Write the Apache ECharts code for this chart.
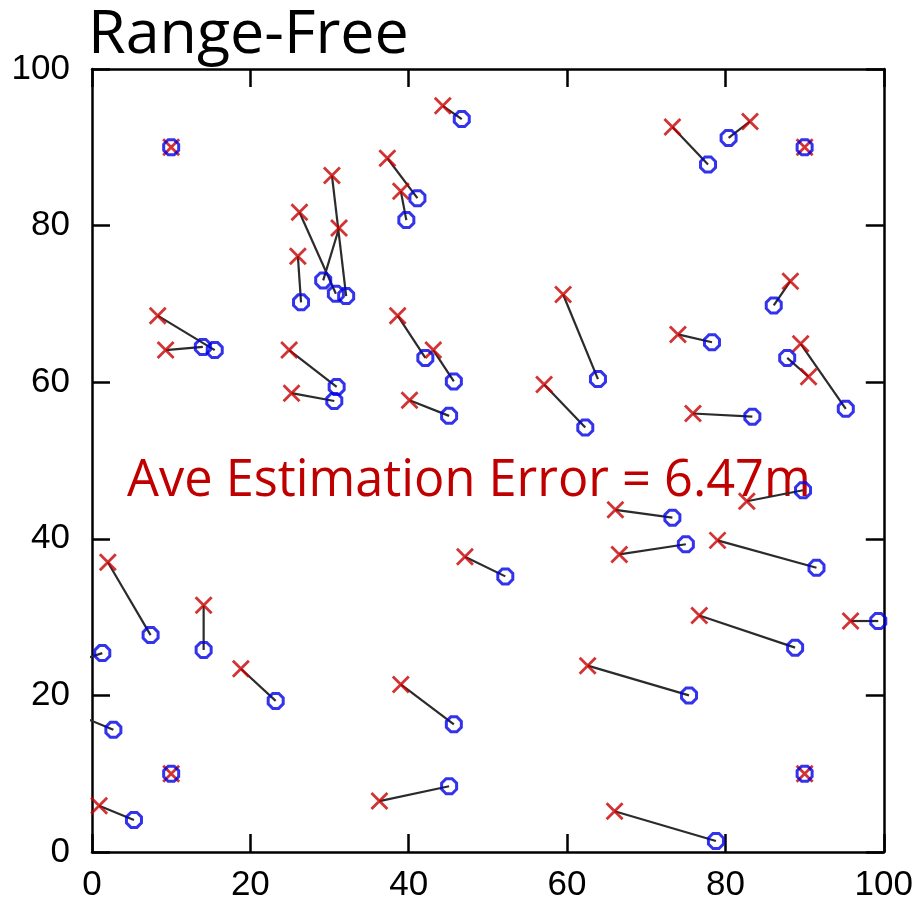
<!DOCTYPE html>
<html>
<head>
<meta charset="utf-8">
<script src="https://cdn.jsdelivr.net/npm/echarts@6/dist/echarts.min.js"></script>
<style>
  html, body { margin: 0; padding: 0; background: #fff; }
  #main { width: 916px; height: 903px; }
</style>
</head>
<body>
<div id="main"></div>
<script>
// estimated positions (red x) and true positions (blue o), same order
var estX  = [44.3, 10, 90, 10, 90, 30.3, 26.2, 31.2, 26.0, 37.3, 39.0, 73.3, 83.1, 88.2, 89.5, 90.5,
             8.3, 9.3, 24.9, 25.2, 38.6, 43.1, 40.1, 59.5, 57.1, 74.0, 75.9, 2.0, -2.0, -3.0,
             14.1, 18.8, 0.9, 39.0, 36.3, 47.1, 66.1, 66.6, 82.7, 79.0, 76.7, 95.8, 62.6, 66.0];
var estY  = [95.3, 90, 90, 10, 10, 86.4, 81.7, 79.7, 76.1, 88.6, 84.4, 92.6, 93.3, 72.9, 64.9, 60.7,
             68.5, 64.1, 64.1, 58.6, 68.5, 64.1, 57.7, 71.2, 59.7, 66.1, 56.0, 37.0, 24.3, 18.0,
             31.5, 23.4, 5.9, 21.4, 6.5, 37.7, 43.7, 38.0, 44.8, 39.8, 30.2, 29.5, 23.8, 5.2];
var trueX = [46.7, 10, 90, 10, 90, 32.1, 30.8, 29.2, 26.4, 41.1, 39.7, 77.8, 80.4, 86.1, 95.2, 87.8,
             15.5, 14.0, 30.9, 30.6, 42.1, 45.7, 45.1, 63.9, 62.3, 78.3, 83.4, 7.4, 1.3, 2.7,
             14.1, 23.2, 5.3, 45.7, 45.1, 52.2, 73.3, 75.0, 89.8, 91.5, 88.8, 99.3, 75.4, 78.8];
var trueY = [93.6, 90, 90, 10, 10, 71.0, 71.3, 73.0, 70.2, 83.5, 80.7, 87.8, 91.2, 69.8, 56.6, 63.1,
             64.1, 64.5, 59.4, 57.6, 63.1, 60.1, 55.7, 60.4, 54.2, 65.1, 55.6, 27.7, 25.4, 15.6,
             25.8, 19.3, 4.1, 16.3, 8.4, 35.2, 42.7, 39.3, 46.2, 36.3, 26.1, 29.5, 20.0, 1.4];
var axisTicks = [0, 20, 40, 60, 80, 100];
var titleText = 'Range-Free';
var noteText = 'Ave Estimation Error = 6.47m';

var myChart = echarts.init(document.getElementById('main'));

var estData = estX.map(function (x, i) { return [x, estY[i]]; });
var trueData = trueX.map(function (x, i) { return [x, trueY[i]]; });

// one short segment per node, estimate -> true position
var series = [];
for (var i = 0; i < estX.length; i++) {
    series.push({
        type: 'line',
        data: [[estX[i], estY[i]], [trueX[i], trueY[i]]],
        symbol: 'none',
        clip: true,
        silent: true,
        lineStyle: { color: '#2b2b2b', width: 2.2 },
        z: 1
    });
}
series.push({
    type: 'scatter',
    data: estData,
    symbol: 'path://M0,0L10,10M10,0L0,10',
    symbolSize: 16,
    clip: true,
    itemStyle: { color: 'none', borderColor: '#c80000', borderWidth: 2.8 },
    z: 3
});
series.push({
    type: 'scatter',
    data: trueData,
    symbol: 'path://M3,0L7,0L10,3L10,7L7,10L3,10L0,7L0,3Z',
    symbolSize: 15,
    clip: true,
    itemStyle: { color: 'rgba(0,0,0,0)', borderColor: '#0000e6', borderWidth: 3 },
    z: 4
});

function axis(pos, showLabel) {
    return {
        type: 'value',
        position: pos,
        min: axisTicks[0],
        max: axisTicks[axisTicks.length - 1],
        interval: axisTicks[1] - axisTicks[0],
        axisLine: { show: true, onZero: false, lineStyle: { color: '#000', width: 2.5 } },
        axisTick: { show: true, inside: true, length: 18, lineStyle: { color: '#000', width: 2.5 } },
        axisLabel: {
            show: showLabel,
            color: '#000',
            fontSize: 35,
            fontFamily: 'Liberation Sans',
            margin: (pos === 'left') ? 22 : 16
        },
        splitLine: { show: false }
    };
}

var option = {
    animation: false,
    grid: { left: 92, right: 32, top: 69, bottom: 48 },
    xAxis: [axis('bottom', true), axis('top', false)],
    yAxis: [axis('left', true), axis('right', false)],
    graphic: [
        {
            type: 'text', left: 88, top: 5,
            style: { text: titleText, font: '61px "Open Sans"', fill: '#000' }
        },
        {
            type: 'text', left: 127, top: 456,
            style: { text: noteText, font: '50.5px "Open Sans"', fill: '#c00000' }
        }
    ],
    series: series
};

myChart.setOption(option);
</script>
</body>
</html>
